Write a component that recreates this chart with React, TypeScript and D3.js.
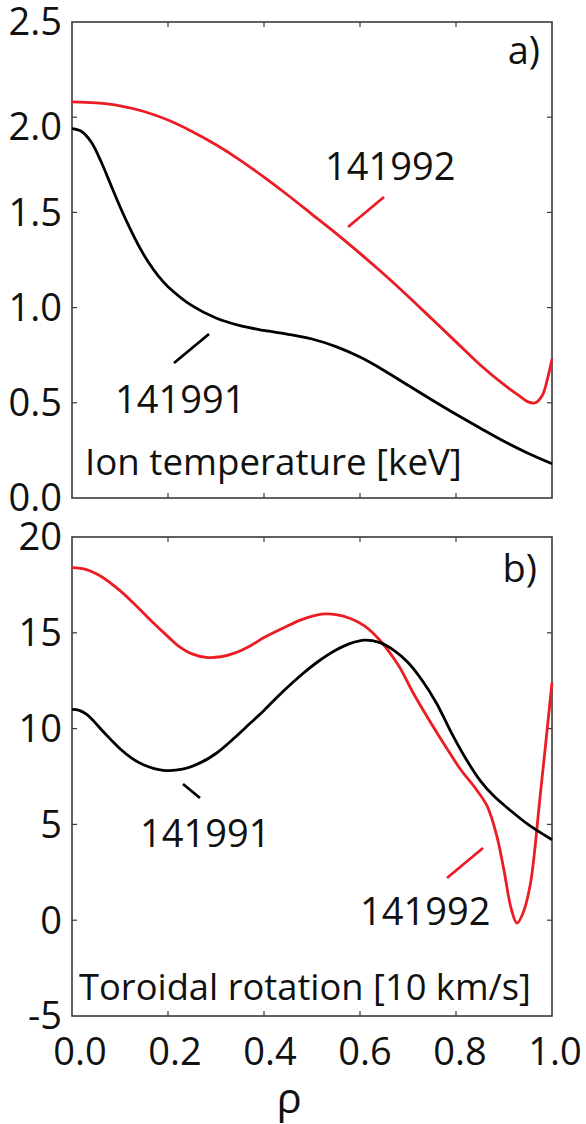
import { useEffect, useRef } from 'react'
import * as d3 from 'd3'

// Ion temperature [keV]
const TI_RHO_141991 = [0, 0.02, 0.04, 0.06, 0.08, 0.1, 0.12, 0.14, 0.16, 0.18, 0.2, 0.25, 0.3, 0.35, 0.4, 0.45, 0.5, 0.55, 0.6, 0.65, 0.7, 0.75, 0.8, 0.85, 0.9, 0.95, 1.0]
const TI_141991 = [1.94, 1.925, 1.87, 1.77, 1.65, 1.53, 1.42, 1.32, 1.235, 1.165, 1.11, 1.01, 0.945, 0.905, 0.88, 0.86, 0.835, 0.795, 0.74, 0.67, 0.592, 0.515, 0.44, 0.368, 0.298, 0.235, 0.18]
const TI_RHO_141992 = [0, 0.05, 0.1, 0.15, 0.2, 0.25, 0.3, 0.35, 0.4, 0.45, 0.5, 0.55, 0.6, 0.65, 0.7, 0.75, 0.8, 0.85, 0.9, 0.93, 0.95, 0.965, 0.98, 0.99, 1.0]
const TI_141992 = [2.08, 2.075, 2.06, 2.03, 1.985, 1.925, 1.855, 1.775, 1.685, 1.59, 1.49, 1.39, 1.285, 1.175, 1.06, 0.94, 0.82, 0.7, 0.595, 0.54, 0.505, 0.5, 0.54, 0.62, 0.73]

// Toroidal rotation [10 km/s]
const VT_RHO_141991 = [0, 0.015, 0.03, 0.045, 0.06, 0.08, 0.1, 0.125, 0.15, 0.19, 0.23, 0.27, 0.3, 0.34, 0.37, 0.4, 0.44, 0.48, 0.51, 0.55, 0.58, 0.61, 0.64, 0.67, 0.7, 0.73, 0.76, 0.79, 0.82, 0.85, 0.88, 0.91, 0.95, 1.0]
const VT_141991 = [11.0, 10.95, 10.75, 10.4, 9.98, 9.45, 8.95, 8.45, 8.1, 7.82, 7.88, 8.25, 8.7, 9.55, 10.25, 10.95, 11.95, 12.85, 13.45, 14.1, 14.45, 14.62, 14.5, 14.1, 13.45, 12.5, 11.3, 9.8, 8.45, 7.3, 6.45, 5.8, 5.0, 4.2]
const VT_RHO_141992 = [0, 0.03, 0.06, 0.1, 0.13, 0.16, 0.2, 0.22, 0.25, 0.28, 0.31, 0.34, 0.37, 0.4, 0.44, 0.48, 0.52, 0.55, 0.58, 0.61, 0.64, 0.68, 0.71, 0.75, 0.78, 0.81, 0.84, 0.865, 0.885, 0.9, 0.915, 0.927, 0.94, 0.955, 0.975, 1.0]
const VT_141992 = [18.4, 18.3, 17.95, 17.2, 16.5, 15.75, 14.8, 14.35, 13.9, 13.72, 13.75, 13.95, 14.3, 14.75, 15.25, 15.7, 15.97, 15.95, 15.75, 15.35, 14.65, 13.3, 11.9, 10.2, 9.0, 7.85, 6.9, 5.95, 4.4, 2.6, 0.6, -0.15, 0.4, 1.9, 6.4, 12.4]

const X_TICKS = [0, 0.2, 0.4, 0.6, 0.8, 1.0]
const TI_TICKS = [0, 0.5, 1.0, 1.5, 2.0, 2.5]
const VT_TICKS = [-5, 0, 5, 10, 15, 20]

const RED = '#ec1c24'
const FRAME = '#3a3a3a'
const FONT = '"Open Sans", "Noto Sans", sans-serif'

export default function App() {
  const svgRef = useRef<SVGSVGElement>(null)

  useEffect(() => {
    document.body.style.margin = '0'
    if (!svgRef.current) return
    const svg = d3.select(svgRef.current)
    svg.selectAll('*').remove()

    const x = d3.scaleLinear().domain([0, 1]).range([72, 552])
    const xLabel = d3.scaleLinear().domain([0, 1]).range([80, 555])
    const yTi = d3.scaleLinear().domain([0, 2.5]).range([498, 22])
    const yVt = d3.scaleLinear().domain([-5, 20]).range([1016, 537])

    const panel = (y: d3.ScaleLinear<number, number>, ticks: number[], fmt: (d: number) => string, showX: boolean) => {
      const [y0, y1] = y.range()
      const g = svg.append('g')
      g.append('rect').attr('x', 72).attr('y', y1).attr('width', 480).attr('height', y0 - y1)
        .attr('fill', 'none').attr('stroke', FRAME).attr('stroke-width', 1.6)
      // inward ticks on all four sides
      X_TICKS.slice(1, -1).forEach((t) => {
        g.append('line').attr('x1', x(t)).attr('x2', x(t)).attr('y1', y0).attr('y2', y0 - 5)
          .attr('stroke', FRAME).attr('stroke-width', 1.2)
        g.append('line').attr('x1', x(t)).attr('x2', x(t)).attr('y1', y1).attr('y2', y1 + 5)
          .attr('stroke', FRAME).attr('stroke-width', 1.2)
      })
      ticks.slice(1, -1).forEach((t) => {
        g.append('line').attr('x1', 72).attr('x2', 77).attr('y1', y(t)).attr('y2', y(t))
          .attr('stroke', FRAME).attr('stroke-width', 1.2)
        g.append('line').attr('x1', 552).attr('x2', 547).attr('y1', y(t)).attr('y2', y(t))
          .attr('stroke', FRAME).attr('stroke-width', 1.2)
      })
      ticks.forEach((t) => {
        // the "2.0" label sits a little low in the original figure
        const nudge = fmt(t) === '2.0' ? 9 : 0
        g.append('text').attr('x', 62).attr('y', y(t) + nudge).attr('dy', '0.35em')
          .attr('text-anchor', 'end').attr('font-family', FONT).attr('font-size', 38)
          .attr('fill', '#111').text(fmt(t))
      })
      if (showX) {
        X_TICKS.forEach((t) => {
          g.append('text').attr('x', xLabel(t)).attr('y', 1065)
            .attr('text-anchor', 'middle').attr('font-family', FONT).attr('font-size', 38)
            .attr('fill', '#111').text(t.toFixed(1))
        })
      }
    }

    panel(yTi, TI_TICKS, (d) => d.toFixed(1), false)
    panel(yVt, VT_TICKS, (d) => String(d), true)

    const curve = (rho: number[], vals: number[], y: d3.ScaleLinear<number, number>, color: string) => {
      const line = d3.line<number>().x((_, i) => x(rho[i])).y((d) => y(d)).curve(d3.curveCatmullRom.alpha(0.5))
      svg.append('path').datum(vals).attr('fill', 'none').attr('stroke', color)
        .attr('stroke-width', 2.8).attr('stroke-linejoin', 'round').attr('d', line)
    }

    curve(TI_RHO_141992, TI_141992, yTi, RED)
    curve(TI_RHO_141991, TI_141991, yTi, '#000')
    curve(VT_RHO_141992, VT_141992, yVt, RED)
    curve(VT_RHO_141991, VT_141991, yVt, '#000')

    const text = (tx: number, ty: number, s: string, size = 38, anchor = 'start') => {
      svg.append('text').attr('x', tx).attr('y', ty).attr('text-anchor', anchor)
        .attr('font-family', FONT).attr('font-size', size).attr('fill', '#111').text(s)
    }
    const leader = (x1: number, y1: number, x2: number, y2: number, color: string) => {
      svg.append('line').attr('x1', x1).attr('y1', y1).attr('x2', x2).attr('y2', y2)
        .attr('stroke', color).attr('stroke-width', 2.8)
    }

    // panel a annotations
    text(540, 64, 'a)', 38, 'end')
    text(325, 180, '141992')
    leader(348, 227, 384, 197, RED)
    text(115, 413, '141991')
    leader(174, 363, 209, 334, '#000')
    text(85, 475, 'Ion temperature [keV]', 36.7)

    // panel b annotations
    text(537, 582, 'b)', 38, 'end')
    text(140, 847, '141991')
    leader(183, 784, 200, 798, '#000')
    text(360, 925, '141992')
    leader(447, 878, 483, 848, RED)
    text(79, 1000, 'Toroidal rotation [10 km/s]', 36.3)

    // x-axis title
    svg.append('text').attr('x', 289).attr('y', 1113).attr('text-anchor', 'middle')
      .attr('font-family', FONT).attr('font-size', 42).attr('fill', '#111').text('ρ')
  }, [])

  return <svg ref={svgRef} width={586} height={1124} style={{ display: 'block', background: '#fff' }} />
}
